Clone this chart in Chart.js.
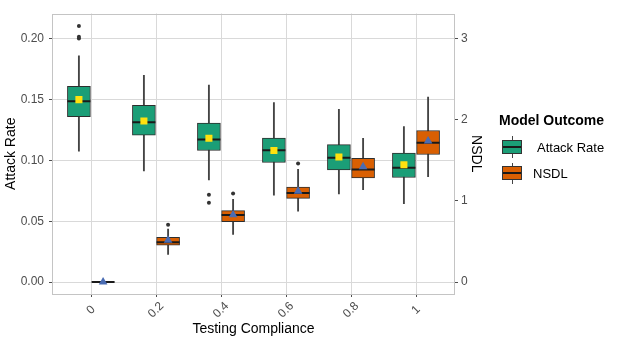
<!DOCTYPE html>
<html><head><meta charset="utf-8">
<script src="https://cdn.jsdelivr.net/npm/chart.js@4"></script>
<style>
html,body{margin:0;padding:0;background:#fff;}
#wrap{position:relative;width:617px;height:343px;overflow:hidden;}
#c{position:absolute;left:0;top:0;}
.lg{position:absolute;font-family:"Liberation Sans",Arial,sans-serif;color:#000;white-space:nowrap;}
.wh{position:absolute;width:1px;background:#444;}
.bx{position:absolute;width:18px;height:12px;border:1px solid #333;}
.md{position:absolute;width:18px;height:2px;background:#1a1a1a;}
</style></head><body>
<div id="wrap">
<canvas id="c" width="617" height="343"></canvas>
<div class="lg" style="left:499px;top:112px;font-size:14px;font-weight:bold;line-height:16px;">Model Outcome</div>
<div class="wh" style="left:512px;top:136px;height:22px;"></div>
<div class="bx" style="left:502px;top:140px;background:#1b9e77;"></div>
<div class="md" style="left:503px;top:146px;"></div>
<div class="lg" style="left:537px;top:140px;font-size:13px;line-height:15px;">Attack Rate</div>
<div class="wh" style="left:512px;top:163px;height:21px;"></div>
<div class="bx" style="left:502px;top:166px;background:#d95f02;"></div>
<div class="md" style="left:503px;top:172px;"></div>
<div class="lg" style="left:533px;top:166px;font-size:13px;line-height:15px;">NSDL</div>
</div>
<script>
// ---- data ----
const categories = ['0', '0.2', '0.4', '0.6', '0.8', '1'];
const leftTicks = [0, 0.05, 0.10, 0.15, 0.20];
const rightTicks = [0, 1, 2, 3];

// Attack Rate (left axis)
const arMin  = [0.1076, 0.0914, 0.0839, 0.0714, 0.0725, 0.0645];
const arQ1   = [0.1360, 0.1207, 0.1082, 0.0983, 0.0922, 0.0860];
const arMed  = [0.1486, 0.1313, 0.1172, 0.1084, 0.1023, 0.0940];
const arQ3   = [0.1610, 0.1454, 0.1308, 0.1183, 0.1130, 0.1060];
const arMax  = [0.1860, 0.1700, 0.1620, 0.1476, 0.1420, 0.1278];
const arMean = [0.1500, 0.1324, 0.1183, 0.1082, 0.1028, 0.0964];
const arOut  = [[0.2105, 0.2017, 0.2003], [], [0.0717, 0.0653], [], [], []];

// NSDL (right axis)
const nsMin  = [0, 0.341, 0.588, 0.873, 1.140, 1.301];
const nsQ1   = [0, 0.456, 0.744, 1.032, 1.285, 1.573];
const nsMed  = [0, 0.492, 0.828, 1.097, 1.389, 1.717];
const nsQ3   = [0, 0.552, 0.881, 1.173, 1.525, 1.869];
const nsMax  = [0, 0.653, 1.020, 1.389, 1.773, 2.281];
const nsMean = [0, 0.516, 0.830, 1.121, 1.421, 1.741];
const nsOut  = [[], [0.708], [1.092], [1.461], [], []];

// ---- styling ----
const FONT = '"Liberation Sans", Arial, sans-serif';
const GREEN = '#1b9e77', ORANGE = '#d95f02';
const TICK = '#4d4d4d';
const DODGE = 0.186;
const gx = categories.map((c, i) => i - DODGE);
const ox = categories.map((c, i) => i + DODGE);

const bars = (xs, lo, hi) => xs.map((x, i) => ({x, y: [lo[i], hi[i]]}));
const pts = (xs, v) => xs.map((x, i) => ({x, y: v[i]}));
const outs = (xs, o) => { const r = []; o.forEach((a, i) => a.forEach(v => r.push({x: xs[i], y: v}))); return r; };

const whisker = {type: 'bar', backgroundColor: '#444', borderWidth: 0, barThickness: 1.2, grouped: false, order: 10};
const box = {type: 'bar', borderColor: '#2e2e2e', borderWidth: 1, borderSkipped: false, barThickness: 23, grouped: false, order: 5};
const median = {type: 'scatter', pointStyle: 'line', radius: 11.5, borderColor: '#1a1a1a', borderWidth: 2, order: 3};
const outlier = {type: 'scatter', pointStyle: 'circle', radius: 2, backgroundColor: '#333', borderWidth: 0, order: 2};

const panelBorder = {
  id: 'panelBorder',
  beforeDatasetsDraw(chart) {
    const {ctx, chartArea: a} = chart;
    ctx.save();
    ctx.strokeStyle = '#c4c4c4';
    ctx.lineWidth = 1;
    ctx.strokeRect(Math.round(a.left) + 0.5, Math.round(a.top) + 0.5, Math.round(a.right - a.left) - 1, Math.round(a.bottom - a.top) - 1);
    ctx.restore();
  }
};
const xLabels = {
  id: 'xLabels',
  afterDraw(chart) {
    const {ctx} = chart;
    const xs = chart.scales.x;
    ctx.save();
    ctx.font = '12px ' + FONT;
    ctx.fillStyle = '#4d4d4d';
    ctx.textAlign = 'center';
    ctx.textBaseline = 'middle';
    categories.forEach((c, i) => {
      ctx.save();
      ctx.translate(xs.getPixelForValue(i), xs.top + 16);
      ctx.rotate(-Math.PI / 4);
      ctx.fillText(c, 0, 0);
      ctx.restore();
    });
    ctx.restore();
  }
};

new Chart(document.getElementById('c'), {
  type: 'bar',
  data: {
    datasets: [
      {...whisker, data: bars(gx, arMin, arMax), yAxisID: 'y'},
      {...whisker, data: bars(ox, nsMin, nsMax), yAxisID: 'y1'},
      {...box, label: 'Attack Rate', data: bars(gx, arQ1, arQ3), backgroundColor: GREEN, yAxisID: 'y'},
      {...box, label: 'NSDL', data: bars(ox, nsQ1, nsQ3), backgroundColor: ORANGE, yAxisID: 'y1'},
      {...median, data: pts(gx, arMed), yAxisID: 'y'},
      {...median, data: pts(ox, nsMed), yAxisID: 'y1'},
      {type: 'scatter', data: pts(gx, arMean), yAxisID: 'y', pointStyle: 'rect', radius: 5, backgroundColor: '#ffe10f', borderWidth: 0, order: 1},
      {type: 'scatter', data: pts(ox, nsMean), yAxisID: 'y1', pointStyle: 'triangle', radius: 5, backgroundColor: '#4a6cb3', borderWidth: 0, order: 1},
      {...outlier, data: outs(gx, arOut), yAxisID: 'y'},
      {...outlier, data: outs(ox, nsOut), yAxisID: 'y1'}
    ]
  },
  options: {
    responsive: false,
    animation: false,
    devicePixelRatio: 1,
    layout: {padding: {left: 0, top: 5, right: 129, bottom: 1}},
    plugins: {legend: {display: false}, tooltip: {enabled: false}},
    scales: {
      x: {
        type: 'linear', min: -0.6, max: 5.6, offset: false,
        afterBuildTicks: s => { s.ticks = categories.map((c, i) => ({value: i})); },
        afterFit: s => { s.height = 48; },
        ticks: {display: false},
        grid: {offset: false, color: '#d9d9d9', lineWidth: 1, tickLength: 3, tickColor: TICK},
        border: {display: false},
        title: {display: true, text: 'Testing Compliance', color: '#000', font: {size: 14, family: FONT}, padding: {top: 4, bottom: 4}}
      },
      y: {
        position: 'left', min: -0.0098, max: 0.2208,
        afterBuildTicks: s => { s.ticks = leftTicks.map(v => ({value: v})); },
        afterFit: s => { s.width = 52; },
        ticks: {callback: v => v.toFixed(2), color: '#4d4d4d', font: {size: 12, family: FONT}, padding: 5},
        grid: {color: '#d9d9d9', lineWidth: 1, tickLength: 3, tickColor: TICK},
        border: {display: false},
        title: {display: true, text: 'Attack Rate', color: '#000', font: {size: 14, family: FONT}, padding: {top: 3, bottom: 3}}
      },
      y1: {
        position: 'right', min: -0.147, max: 3.312,
        afterBuildTicks: s => { s.ticks = rightTicks.map(v => ({value: v})); },
        afterFit: s => { s.width = 33; },
        ticks: {callback: v => String(v), color: '#4d4d4d', font: {size: 12, family: FONT}, padding: 3},
        grid: {drawOnChartArea: false, tickLength: 3, tickColor: TICK},
        border: {display: false},
        title: {display: true, text: 'NSDL', color: '#000', font: {size: 14, family: FONT}, padding: {top: 4, bottom: 4}}
      }
    }
  },
  plugins: [panelBorder, xLabels]
});
</script>
</body></html>
